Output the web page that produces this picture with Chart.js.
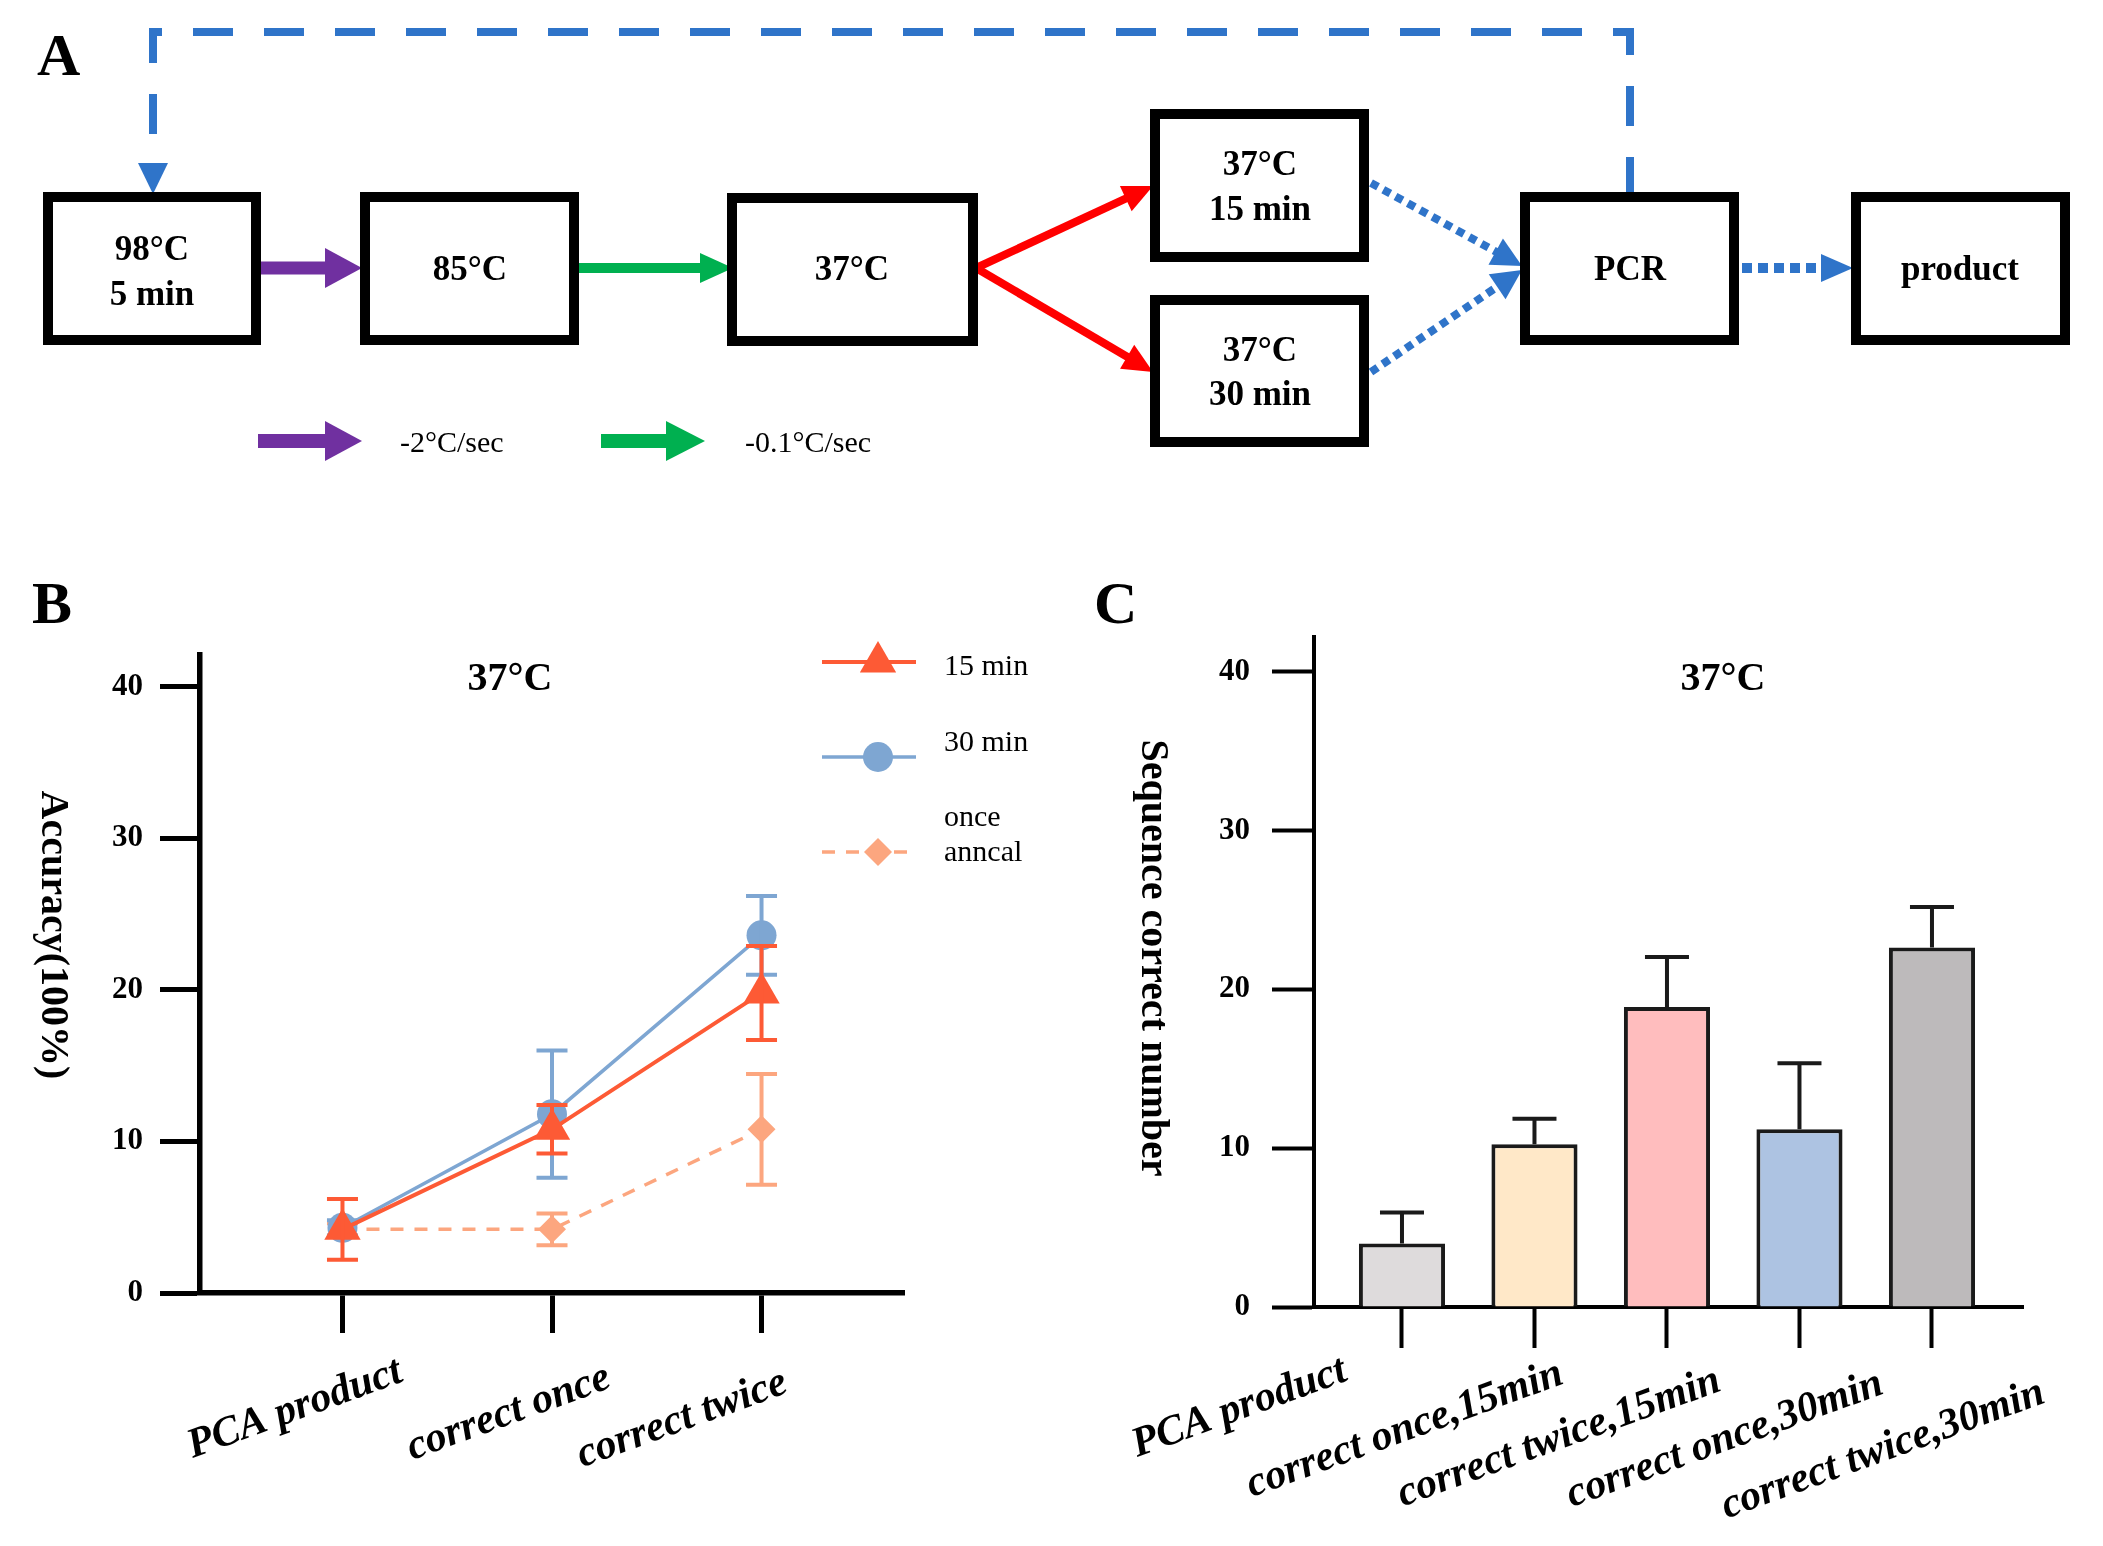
<!DOCTYPE html>
<html lang="en">
<head>
<meta charset="UTF-8">
<title>Correction at 37°C</title>
<script src="https://cdn.jsdelivr.net/npm/chart.js@4"></script>
<style>
  html, body { margin: 0; padding: 0; background: #fff; overflow: hidden; }
  #page { position: relative; width: 2103px; height: 1546px; background: #fff; }
  canvas { position: absolute; }
  #art { position: absolute; left: 0; top: 0; pointer-events: none; font-family: "Liberation Serif", "Times New Roman", serif; }
  .box { fill: #fff; stroke: #000; stroke-width: 10; }
  .bt { font-size: 35px; font-weight: bold; text-anchor: middle; dominant-baseline: central; }
  .lt { font-size: 30px; dominant-baseline: central; }
  .letter { font-size: 60px; font-weight: bold; }
  .ct { font-size: 40px; font-weight: bold; text-anchor: middle; }
  .yt { font-size: 40px; font-weight: bold; text-anchor: middle; dominant-baseline: central; }
</style>
</head>
<body>
<div id="page">
  <canvas id="chartB" width="1050" height="946" style="left:0;top:600px"></canvas>
  <canvas id="chartC" width="1053" height="946" style="left:1050px;top:600px"></canvas>

  <svg id="art" width="2103" height="1546" xmlns="http://www.w3.org/2000/svg">
    <text class="letter" x="37" y="75">A</text>
    <text class="letter" x="32" y="623">B</text>
    <text class="letter" x="1094" y="623">C</text>

    <!-- flow diagram -->
    <g id="arrows"></g>
    <rect class="box" x="48" y="197" width="208" height="143"/>
    <rect class="box" x="365" y="197" width="209" height="143"/>
    <rect class="box" x="732" y="198" width="241" height="143"/>
    <rect class="box" x="1155" y="114" width="209" height="143"/>
    <rect class="box" x="1155" y="300" width="209" height="142"/>
    <rect class="box" x="1525" y="197" width="209" height="143"/>
    <rect class="box" x="1856" y="197" width="209" height="143"/>
    <text class="bt" x="152" y="248">98°C</text>
    <text class="bt" x="152" y="293">5 min</text>
    <text class="bt" x="470" y="268">85°C</text>
    <text class="bt" x="852" y="268">37°C</text>
    <text class="bt" x="1260" y="163">37°C</text>
    <text class="bt" x="1260" y="208">15 min</text>
    <text class="bt" x="1260" y="349">37°C</text>
    <text class="bt" x="1260" y="393">30 min</text>
    <text class="bt" x="1630" y="268">PCR</text>
    <text class="bt" x="1960" y="268">product</text>
    <text class="lt" x="400" y="441">-2°C/sec</text>
    <text class="lt" x="745" y="441">-0.1°C/sec</text>

    <!-- chart titles -->
    <text class="ct" x="510" y="690">37°C</text>
    <text class="ct" x="1723" y="690">37°C</text>
    <text class="yt" transform="translate(55,935) rotate(90)">Accuracy(100%)</text>
    <text class="yt" transform="translate(1155,958) rotate(90)">Sequence correct number</text>
  </svg>
</div>

<script>
// ---- data: panel B (accuracy, %)
const catsB = ['PCA product', 'correct once', 'correct twice'];
const seriesNames = ['15 min', '30 min', 'once anncal'];
const acc15 = [4.2, 10.8, 19.8];
const err15 = [2.0, 1.6, 3.1];
const acc30 = [4.3, 11.8, 23.6];
const err30 = [0.5, 4.2, 2.6];
const accAnneal = [4.2, 4.2, 10.8];
const errAnneal = [0.4, 1.05, 3.65];

// ---- data: panel C (sequence correct number)
const catsC = ['PCA product', 'correct once,15min', 'correct twice,15min', 'correct once,30min', 'correct twice,30min'];
const countC = [4.0, 10.25, 18.9, 11.2, 22.65];
const errC = [1.95, 1.6, 3.15, 4.15, 2.55];

const yTicks = [0, 10, 20, 30, 40];

// ---- flow diagram arrows
const NS = 'http://www.w3.org/2000/svg';
const arrowLayer = document.getElementById('arrows');
function el(tag, attrs) {
    const e = document.createElementNS(NS, tag);
    for (const k in attrs) e.setAttribute(k, attrs[k]);
    arrowLayer.appendChild(e);
    return e;
}
function arrow(x1, y1, x2, y2, o) {
    const len = Math.hypot(x2 - x1, y2 - y1);
    const ux = (x2 - x1) / len, uy = (y2 - y1) / len;
    const bx = x2 - ux * o.head, by = y2 - uy * o.head;
    const nx = -uy, ny = ux;
    const line = el('line', { x1: x1, y1: y1, x2: bx + ux, y2: by + uy, stroke: o.color, 'stroke-width': o.width });
    if (o.dash) line.setAttribute('stroke-dasharray', o.dash);
    el('polygon', {
        points: [x2, y2, bx + nx * o.half, by + ny * o.half, bx - nx * o.half, by - ny * o.half].join(' '),
        fill: o.color
    });
}
const purple = '#7030a0', green = '#00b050', red = '#ff0000', blue = '#2f74c9';
arrow(258, 268, 362, 268, { color: purple, width: 13, head: 37, half: 20 });
arrow(575, 268, 733, 268, { color: green, width: 10, head: 33, half: 15 });
arrow(258, 441, 362, 441, { color: purple, width: 14, head: 37, half: 20 });
arrow(601, 441, 705, 441, { color: green, width: 14, head: 39, half: 20 });
arrow(976, 268, 1153, 186, { color: red, width: 8, head: 30, half: 14 });
arrow(976, 268, 1153, 372, { color: red, width: 8, head: 30, half: 14 });
arrow(1371, 183, 1522, 266, { color: blue, width: 8, head: 30, half: 15, dash: '8 6' });
arrow(1371, 372, 1522, 270, { color: blue, width: 8, head: 30, half: 15, dash: '8 6' });
arrow(1742, 268, 1853, 268, { color: blue, width: 10, head: 32, half: 14, dash: '10 6' });
el('polyline', { points: '1630,197 1630,32 153,32 153,165', fill: 'none', stroke: blue, 'stroke-width': 8, 'stroke-dasharray': '40 31' });
el('polygon', { points: '138,163 168,163 153,194', fill: blue });

// ---- chart plugins
const errorBars = {
    id: 'errorBars',
    afterDatasetDraw(chart, args, opts) {
        const ds = chart.data.datasets[args.index];
        if (!ds.errors) return;
        const ys = chart.scales.y, ctx = chart.ctx;
        ctx.save();
        ctx.strokeStyle = opts.color || ds.borderColor;
        ctx.lineWidth = opts.width;
        args.meta.data.forEach((pt, i) => {
            const v = ds.data[i].y, e = ds.errors[i];
            const top = ys.getPixelForValue(v + e);
            const bot = ys.getPixelForValue(opts.oneSided ? v : v - e);
            const x = pt.x, c = opts.cap / 2;
            ctx.beginPath();
            ctx.moveTo(x, top); ctx.lineTo(x, bot);
            ctx.moveTo(x - c, top); ctx.lineTo(x + c, top);
            if (!opts.oneSided) { ctx.moveTo(x - c, bot); ctx.lineTo(x + c, bot); }
            ctx.stroke();
        });
        ctx.restore();
    }
};

const slantLabels = {
    id: 'slantLabels',
    afterDraw(chart, args, opts) {
        if (!opts.labels) return;
        const xs = chart.scales.x, ctx = chart.ctx, base = chart.chartArea.bottom;
        ctx.save();
        ctx.font = opts.font;
        ctx.fillStyle = '#000';
        ctx.textAlign = 'right';
        ctx.textBaseline = 'top';
        opts.labels.forEach((t, i) => {
            ctx.save();
            ctx.translate(xs.getPixelForValue(i) + opts.dx[i], base + opts.dy[i]);
            ctx.rotate(-opts.angle * Math.PI / 180);
            ctx.fillText(t, 0, 0);
            ctx.restore();
        });
        ctx.restore();
    }
};

const sideLegend = {
    id: 'sideLegend',
    afterDraw(chart, args, opts) {
        if (!opts.rows) return;
        const ctx = chart.ctx;
        chart.data.datasets.forEach((ds, i) => {
            const r = opts.rows[i];
            ctx.save();
            ctx.strokeStyle = ds.borderColor;
            ctx.lineWidth = ds.borderWidth;
            ctx.setLineDash(ds.borderDash || []);
            ctx.beginPath();
            ctx.moveTo(opts.x0, r.y); ctx.lineTo(opts.x1, r.y);
            ctx.stroke();
            ctx.setLineDash([]);
            ctx.fillStyle = ds.pointBackgroundColor;
            Chart.helpers.drawPoint(ctx, { pointStyle: ds.pointStyle, radius: ds.pointRadius, rotation: 0, borderWidth: 0 }, opts.xm, r.y);
            ctx.fillStyle = '#000';
            ctx.font = opts.font;
            ctx.textBaseline = 'middle';
            const lines = r.wrap ? ds.label.split(' ') : [ds.label];
            lines.forEach((t, k) => ctx.fillText(t, opts.tx, r.ty[k]));
            ctx.restore();
        });
    }
};

Chart.defaults.font.family = '"Liberation Serif", "Times New Roman", serif';
Chart.defaults.color = '#000';

function yAxis(max, w, lineW, tickW, tickLen, pad) {
    return {
        type: 'linear', min: 0, max: max,
        afterBuildTicks: s => { s.ticks = yTicks.map(v => ({ value: v })); },
        afterFit: s => { s.width = w; s.paddingTop = 0; s.paddingBottom = 0; },
        grid: { drawOnChartArea: false, drawTicks: true, tickLength: tickLen, tickWidth: tickW, tickColor: '#000' },
        border: { display: true, color: '#000', width: lineW },
        ticks: { font: { size: 31, weight: 'bold' }, color: '#000', padding: pad }
    };
}
function xAxis(min, max, n, lineW, tickW, tickLen) {
    return {
        type: 'linear', min: min, max: max, offset: false,
        afterBuildTicks: s => { s.ticks = Array.from({ length: n }, (_, i) => ({ value: i })); },
        afterFit: s => { s.height = tickLen; s.paddingLeft = 0; s.paddingRight = 0; },
        grid: { offset: false, drawOnChartArea: false, drawTicks: true, tickLength: tickLen, tickWidth: tickW, tickColor: '#000' },
        border: { display: true, color: '#000', width: lineW },
        ticks: { display: false }
    };
}
const toXY = arr => arr.map((v, i) => ({ x: i, y: v }));

// ---- panel B
new Chart(document.getElementById('chartB'), {
    type: 'line',
    data: {
        datasets: [
            { label: seriesNames[0], data: toXY(acc15), errors: err15, borderColor: '#fd5a35', pointBackgroundColor: '#fd5a35',
              borderWidth: 4, pointStyle: 'triangle', pointRadius: 21, pointBorderWidth: 0 },
            { label: seriesNames[1], data: toXY(acc30), errors: err30, borderColor: '#7ea6d2', pointBackgroundColor: '#7ea6d2',
              borderWidth: 3.5, pointStyle: 'circle', pointRadius: 15, pointBorderWidth: 0 },
            { label: seriesNames[2], data: toXY(accAnneal), errors: errAnneal, borderColor: '#fca67f', pointBackgroundColor: '#fca67f',
              borderWidth: 3.5, borderDash: [13, 11], pointStyle: 'rectRot', pointRadius: 14, pointBorderWidth: 0 }
        ]
    },
    options: {
        responsive: false, animation: false,
        layout: { padding: { top: 55, right: 146, bottom: 213, left: 0 } },
        elements: { line: { tension: 0, fill: false } },
        scales: { x: xAxis(-0.68, 2.68, catsB.length, 5.5, 5, 40), y: yAxis(42.1, 200, 5.5, 5, 40, 17) },
        plugins: {
            legend: { display: false }, tooltip: { enabled: false },
            errorBars: { cap: 31, width: 4 },
            slantLabels: { labels: catsB, angle: 20, font: 'italic bold 42px "Liberation Serif"', dx: [51, 50, 17], dy: [58, 64, 69] },
            sideLegend: {
                x0: 822, x1: 916, xm: 878, tx: 944, font: '30px "Liberation Serif"',
                rows: [{ y: 62, ty: [67] }, { y: 157, ty: [143] }, { y: 252, ty: [218, 253], wrap: true }]
            }
        }
    },
    plugins: [errorBars, slantLabels, sideLegend]
});

// ---- panel C
new Chart(document.getElementById('chartC'), {
    type: 'bar',
    data: {
        datasets: [{
            label: 'Sequence correct number', data: toXY(countC), errors: errC,
            backgroundColor: ['#dedbdc', '#ffe8c8', '#ffbdbe', '#adc3e2', '#bdbabb'],
            borderColor: '#1a1a1a', borderWidth: 4, barPercentage: 0.65, categoryPercentage: 1
        }]
    },
    options: {
        responsive: false, animation: false,
        layout: { padding: { top: 37, right: 80, bottom: 198, left: 0 } },
        scales: { x: xAxis(-0.664, 4.687, catsC.length, 4, 4, 41), y: yAxis(42.2, 264, 4, 4, 42, 22) },
        plugins: {
            legend: { display: false }, tooltip: { enabled: false },
            errorBars: { cap: 44, width: 4, oneSided: true, color: '#1a1a1a' },
            slantLabels: { labels: catsC, angle: 20, font: 'italic bold 42px "Liberation Serif"', dx: [-64, 20, 45, 75, 104], dy: [43, 46, 53, 56, 65] }
        }
    },
    plugins: [errorBars, slantLabels]
});
</script>
</body>
</html>
